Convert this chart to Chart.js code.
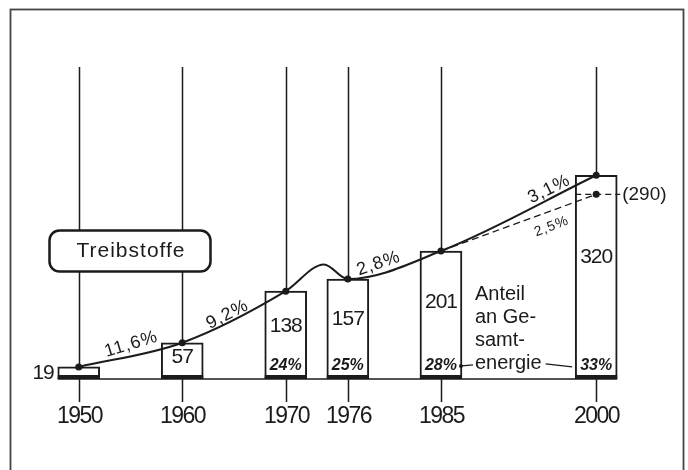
<!DOCTYPE html>
<html>
<head>
<meta charset="utf-8">
<script src="https://cdn.jsdelivr.net/npm/chart.js@4.4.0/dist/chart.umd.min.js"></script>
<style>
  html, body { margin: 0; padding: 0; background: #fff; }
  #chart { display: block; }
</style>
</head>
<body>
<canvas id="chart" width="688" height="470"></canvas>
<script>
const years = [1950, 1960, 1970, 1976, 1985, 2000];
const fuelUse = [19, 57, 138, 157, 201, 320];
const shares = ['', '', '24%', '25%', '28%', '33%'];

// the hand drawn curve has a hump between 1970 and 1976
const curveYears = [1950, 1960, 1970, 1973.7, 1976, 1985, 2000];
const curveValues = [19, 57, 138, 180, 157, 201, 320];

const lowYears = [1985, 2000];
const lowValues = [201, 290];
const lowLabel = '(290)';

const growthFrom = [1950, 1960, 1976, 1985];
const growthTo = [1960, 1970, 1985, 2000];
const growthLabels = ['11,6%', '9,2%', '2,8%', '3,1%'];
const lowGrowthLabel = '2,5%';

const title = 'Treibstoffe';
const shareNote = ['Anteil', 'an Ge-', 'samt-', 'energie'];

const ink = '#1b1b1b';
const sans = '"Liberation Sans", Arial, sans-serif';

// t along the chord, offset above it (px), rotation (deg)
const growthPlace = [[0.53, 10, -17], [0.46, 5, -27], [0.35, 6, -19], [0.72, 8, -26]];

function labelOnChord(ctx, text, a, b, t, off, rot) {
  const dx = b.x - a.x, dy = b.y - a.y;
  const len = Math.hypot(dx, dy);
  const nx = dy / len, ny = -dx / len;
  const cx = a.x + dx * t + nx * off;
  const cy = a.y + dy * t + ny * off;
  ctx.save();
  ctx.translate(cx, cy);
  ctx.rotate(rot * Math.PI / 180);
  ctx.fillText(text, 0, 0);
  ctx.restore();
}

const drawing = {
  id: 'drawing',
  beforeDatasetsDraw(c) {
    const {ctx, chartArea, scales: {x, y}} = c;
    ctx.save();
    ctx.strokeStyle = ink;
    ctx.lineWidth = 1.5;
    years.forEach((yr, i) => {
      const px = Math.round(x.getPixelForValue(yr)) + 0.5;
      ctx.beginPath();
      ctx.moveTo(px, chartArea.top);
      ctx.lineTo(px, y.getPixelForValue(fuelUse[i]));
      ctx.stroke();
    });

    // title box
    ctx.fillStyle = '#fff';
    ctx.lineWidth = 2.5;
    ctx.beginPath();
    ctx.roundRect(49.5, 230.5, 161, 41, 10);
    ctx.fill();
    ctx.stroke();
    ctx.fillStyle = ink;
    ctx.font = '21px ' + sans;
    ctx.letterSpacing = '1px';
    ctx.textAlign = 'center';
    ctx.textBaseline = 'middle';
    ctx.fillText(title, 131, 251);
    ctx.restore();
  },
  afterDatasetsDraw(c) {
    const {ctx, scales: {x, y}} = c;
    const bars = c.getDatasetMeta(2).data;
    const base = bars[0].base;
    ctx.save();
    ctx.fillStyle = ink;
    ctx.strokeStyle = ink;

    // thick foot under each bar
    bars.forEach(b => ctx.fillRect(b.x - b.width / 2, base - 4, b.width, 4));

    // base line
    ctx.lineWidth = 1.5;
    ctx.beginPath();
    ctx.moveTo(bars[0].x - bars[0].width / 2, base);
    ctx.lineTo(bars[bars.length - 1].x + bars[bars.length - 1].width / 2, base);
    ctx.stroke();

    // ticks and year labels
    ctx.textAlign = 'center';
    ctx.textBaseline = 'middle';
    ctx.font = '23px ' + sans;
    ctx.letterSpacing = '-1.5px';
    years.forEach(yr => {
      const px = Math.round(x.getPixelForValue(yr)) + 0.5;
      ctx.beginPath();
      ctx.moveTo(px, base);
      ctx.lineTo(px, base + 23);
      ctx.stroke();
      ctx.fillText(String(yr), px, base + 38);
    });

    // values
    ctx.font = '21px ' + sans;
    ctx.letterSpacing = '-1px';
    bars.forEach((b, i) => {
      const h = base - b.y;
      if (h < 20) {
        ctx.textAlign = 'right';
        ctx.fillText(String(fuelUse[i]), b.x - b.width / 2 - 4, (b.y + base) / 2);
      } else {
        ctx.textAlign = 'center';
        ctx.fillText(String(fuelUse[i]), b.x, b.y + 0.4 * h);
      }
    });
    ctx.letterSpacing = '0px';

    // shares
    ctx.textAlign = 'center';
    ctx.font = 'italic bold 16px ' + sans;
    bars.forEach((b, i) => {
      if (shares[i]) ctx.fillText(shares[i], b.x, base - 13);
    });

    // growth rates
    ctx.font = '18px ' + sans;
    ctx.letterSpacing = '1px';
    growthLabels.forEach((txt, i) => {
      const a = {x: x.getPixelForValue(growthFrom[i]), y: y.getPixelForValue(fuelUse[years.indexOf(growthFrom[i])])};
      const b = {x: x.getPixelForValue(growthTo[i]), y: y.getPixelForValue(fuelUse[years.indexOf(growthTo[i])])};
      const p = growthPlace[i];
      labelOnChord(ctx, txt, a, b, p[0], p[1], p[2]);
    });
    ctx.font = '14px ' + sans;
    const la = {x: x.getPixelForValue(lowYears[0]), y: y.getPixelForValue(lowValues[0])};
    const lb = {x: x.getPixelForValue(lowYears[1]), y: y.getPixelForValue(lowValues[1])};
    labelOnChord(ctx, lowGrowthLabel, la, lb, 0.68, -15, -21);
    ctx.letterSpacing = '0px';

    // dashed level for the low variant
    const last = bars[bars.length - 1];
    const ly = y.getPixelForValue(lowValues[1]);
    ctx.lineWidth = 1.3;
    ctx.setLineDash([6, 4]);
    ctx.beginPath();
    ctx.moveTo(last.x - last.width / 2, ly);
    ctx.lineTo(last.x + last.width / 2 + 3, ly);
    ctx.stroke();
    ctx.setLineDash([]);
    ctx.font = '19px ' + sans;
    ctx.textAlign = 'left';
    ctx.fillText(lowLabel, last.x + last.width / 2 + 5, ly);

    // note about share of total energy
    const b85 = bars[4];
    const nx = b85.x + b85.width / 2 + 13;
    ctx.font = '20px ' + sans;
    shareNote.forEach((line, i) => ctx.fillText(line, nx, 294 + i * 23.3));
    const noteY = 294 + 3 * 23.3;
    const endX = nx + ctx.measureText(shareNote[3]).width;
    ctx.lineWidth = 1.3;
    ctx.beginPath();
    ctx.moveTo(endX + 4, noteY);
    ctx.lineTo(last.x - last.width / 2 - 3, noteY + 3);
    ctx.moveTo(nx - 2, noteY + 1);
    ctx.lineTo(nx - 13, noteY + 2);
    ctx.stroke();
    ctx.beginPath();
    ctx.arc(nx - 14, noteY + 2, 2, 0, Math.PI * 2);
    ctx.fill();

    // frame
    ctx.strokeStyle = '#444';
    ctx.lineWidth = 1.8;
    ctx.strokeRect(10.5, 9.5, 673, 500);
    ctx.restore();
  }
};

new Chart(document.getElementById('chart'), {
  type: 'bar',
  data: {
    datasets: [
      {
        type: 'line',
        data: curveYears.map((yr, i) => ({x: yr, y: curveValues[i]})),
        borderColor: ink,
        borderWidth: 2,
        cubicInterpolationMode: 'monotone',
        pointRadius: curveYears.map(yr => years.includes(yr) ? 3.5 : 0),
        pointBackgroundColor: ink,
        pointBorderWidth: 0,
        order: 0
      },
      {
        type: 'line',
        data: lowYears.map((yr, i) => ({x: yr, y: lowValues[i]})),
        borderColor: ink,
        borderWidth: 1.3,
        borderDash: [7, 4],
        pointRadius: [0, 3.5],
        pointBackgroundColor: ink,
        pointBorderWidth: 0,
        order: 1
      },
      {
        type: 'bar',
        data: years.map((yr, i) => ({x: yr, y: fuelUse[i]})),
        backgroundColor: '#fff',
        borderColor: ink,
        borderWidth: 2,
        borderSkipped: false,
        barThickness: 42,
        order: 2
      }
    ]
  },
  options: {
    responsive: false,
    animation: false,
    devicePixelRatio: 1,
    layout: {padding: {left: 27, right: 9, top: 67, bottom: 91}},
    plugins: {legend: {display: false}, tooltip: {enabled: false}},
    scales: {
      x: {type: 'linear', min: 1945, max: 2008, offset: false, display: false},
      y: {min: 0, max: 490, display: false}
    }
  },
  plugins: [drawing]
});
</script>
</body>
</html>
